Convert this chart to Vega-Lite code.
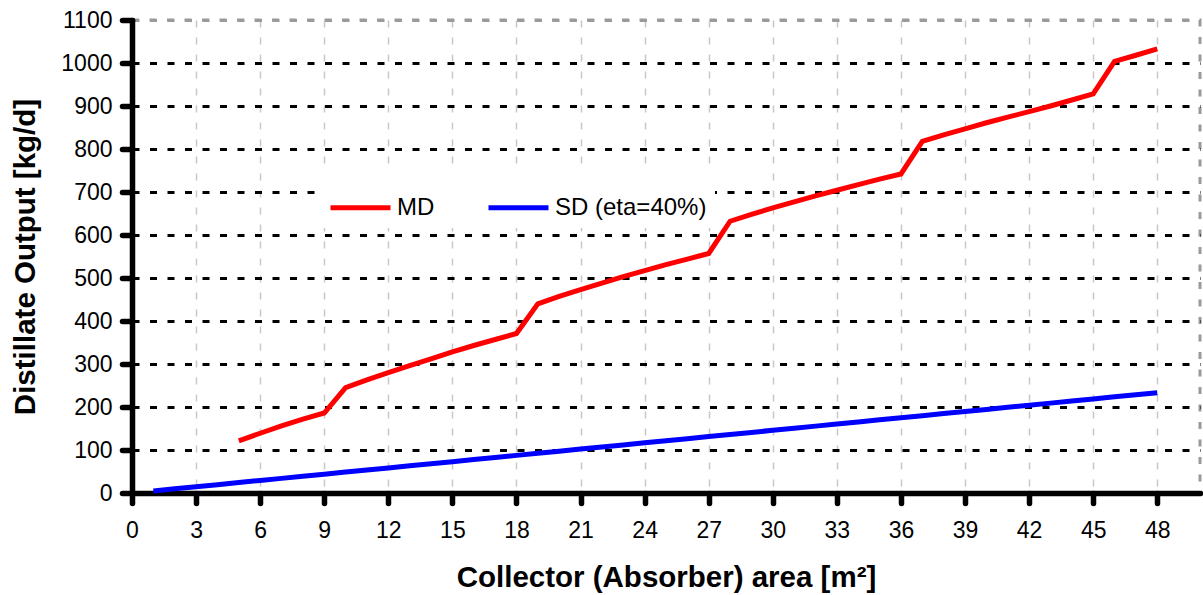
{
  "$schema": "https://vega.github.io/schema/vega-lite/v6.json",
  "width": 1068,
  "height": 473,
  "autosize": {"type": "none"},
  "padding": {"left": 132, "top": 20, "right": 3, "bottom": 102},
  "background": "white",
  "config": {
    "font": "Liberation Sans",
    "view": {"stroke": "#9a9a9a", "strokeWidth": 3, "strokeDash": [7, 10.5]}
  },
  "data": {
    "values": [
      {"area": 5, "output": 121, "series": "MD"},
      {"area": 6, "output": 139, "series": "MD"},
      {"area": 7, "output": 156, "series": "MD"},
      {"area": 8, "output": 172, "series": "MD"},
      {"area": 9, "output": 186, "series": "MD"},
      {"area": 10, "output": 245, "series": "MD"},
      {"area": 11, "output": 263, "series": "MD"},
      {"area": 12, "output": 280, "series": "MD"},
      {"area": 13, "output": 296, "series": "MD"},
      {"area": 14, "output": 312, "series": "MD"},
      {"area": 15, "output": 328, "series": "MD"},
      {"area": 16, "output": 343, "series": "MD"},
      {"area": 17, "output": 357, "series": "MD"},
      {"area": 18, "output": 371, "series": "MD"},
      {"area": 19, "output": 440, "series": "MD"},
      {"area": 20, "output": 457, "series": "MD"},
      {"area": 21, "output": 473, "series": "MD"},
      {"area": 22, "output": 488, "series": "MD"},
      {"area": 23, "output": 503, "series": "MD"},
      {"area": 24, "output": 517, "series": "MD"},
      {"area": 25, "output": 531, "series": "MD"},
      {"area": 26, "output": 544, "series": "MD"},
      {"area": 27, "output": 557, "series": "MD"},
      {"area": 28, "output": 632, "series": "MD"},
      {"area": 29, "output": 648, "series": "MD"},
      {"area": 30, "output": 663, "series": "MD"},
      {"area": 31, "output": 677, "series": "MD"},
      {"area": 32, "output": 691, "series": "MD"},
      {"area": 33, "output": 704, "series": "MD"},
      {"area": 34, "output": 717, "series": "MD"},
      {"area": 35, "output": 730, "series": "MD"},
      {"area": 36, "output": 742, "series": "MD"},
      {"area": 37, "output": 818, "series": "MD"},
      {"area": 38, "output": 833, "series": "MD"},
      {"area": 39, "output": 847, "series": "MD"},
      {"area": 40, "output": 861, "series": "MD"},
      {"area": 41, "output": 874, "series": "MD"},
      {"area": 42, "output": 887, "series": "MD"},
      {"area": 43, "output": 900, "series": "MD"},
      {"area": 44, "output": 914, "series": "MD"},
      {"area": 45, "output": 928, "series": "MD"},
      {"area": 46, "output": 1004, "series": "MD"},
      {"area": 47, "output": 1018, "series": "MD"},
      {"area": 48, "output": 1033, "series": "MD"},
      {"area": 1, "output": 4.9, "series": "SD (eta=40%)"},
      {"area": 2, "output": 9.7, "series": "SD (eta=40%)"},
      {"area": 3, "output": 14.6, "series": "SD (eta=40%)"},
      {"area": 4, "output": 19.4, "series": "SD (eta=40%)"},
      {"area": 5, "output": 24.3, "series": "SD (eta=40%)"},
      {"area": 6, "output": 29.2, "series": "SD (eta=40%)"},
      {"area": 7, "output": 34.0, "series": "SD (eta=40%)"},
      {"area": 8, "output": 38.9, "series": "SD (eta=40%)"},
      {"area": 9, "output": 43.7, "series": "SD (eta=40%)"},
      {"area": 10, "output": 48.6, "series": "SD (eta=40%)"},
      {"area": 11, "output": 53.5, "series": "SD (eta=40%)"},
      {"area": 12, "output": 58.3, "series": "SD (eta=40%)"},
      {"area": 13, "output": 63.2, "series": "SD (eta=40%)"},
      {"area": 14, "output": 68.0, "series": "SD (eta=40%)"},
      {"area": 15, "output": 72.9, "series": "SD (eta=40%)"},
      {"area": 16, "output": 77.8, "series": "SD (eta=40%)"},
      {"area": 17, "output": 82.6, "series": "SD (eta=40%)"},
      {"area": 18, "output": 87.5, "series": "SD (eta=40%)"},
      {"area": 19, "output": 92.3, "series": "SD (eta=40%)"},
      {"area": 20, "output": 97.2, "series": "SD (eta=40%)"},
      {"area": 21, "output": 102.1, "series": "SD (eta=40%)"},
      {"area": 22, "output": 106.9, "series": "SD (eta=40%)"},
      {"area": 23, "output": 111.8, "series": "SD (eta=40%)"},
      {"area": 24, "output": 116.6, "series": "SD (eta=40%)"},
      {"area": 25, "output": 121.5, "series": "SD (eta=40%)"},
      {"area": 26, "output": 126.4, "series": "SD (eta=40%)"},
      {"area": 27, "output": 131.2, "series": "SD (eta=40%)"},
      {"area": 28, "output": 136.1, "series": "SD (eta=40%)"},
      {"area": 29, "output": 140.9, "series": "SD (eta=40%)"},
      {"area": 30, "output": 145.8, "series": "SD (eta=40%)"},
      {"area": 31, "output": 150.7, "series": "SD (eta=40%)"},
      {"area": 32, "output": 155.5, "series": "SD (eta=40%)"},
      {"area": 33, "output": 160.4, "series": "SD (eta=40%)"},
      {"area": 34, "output": 165.2, "series": "SD (eta=40%)"},
      {"area": 35, "output": 170.1, "series": "SD (eta=40%)"},
      {"area": 36, "output": 175.0, "series": "SD (eta=40%)"},
      {"area": 37, "output": 179.8, "series": "SD (eta=40%)"},
      {"area": 38, "output": 184.7, "series": "SD (eta=40%)"},
      {"area": 39, "output": 189.5, "series": "SD (eta=40%)"},
      {"area": 40, "output": 194.4, "series": "SD (eta=40%)"},
      {"area": 41, "output": 199.3, "series": "SD (eta=40%)"},
      {"area": 42, "output": 204.1, "series": "SD (eta=40%)"},
      {"area": 43, "output": 209.0, "series": "SD (eta=40%)"},
      {"area": 44, "output": 213.8, "series": "SD (eta=40%)"},
      {"area": 45, "output": 218.7, "series": "SD (eta=40%)"},
      {"area": 46, "output": 223.6, "series": "SD (eta=40%)"},
      {"area": 47, "output": 228.4, "series": "SD (eta=40%)"},
      {"area": 48, "output": 233.3, "series": "SD (eta=40%)"}
    ]
  },
  "mark": {"type": "line", "strokeWidth": 5, "clip": false},
  "encoding": {
    "x": {
      "field": "area",
      "type": "quantitative",
      "scale": {"domain": [0, 50], "nice": false, "zero": false},
      "axis": {
        "title": "Collector (Absorber) area [m²]",
        "values": [0, 3, 6, 9, 12, 15, 18, 21, 24, 27, 30, 33, 36, 39, 42, 45, 48],
        "format": "d",
        "titleFont": "Liberation Sans",
        "titleFontSize": 29.5,
        "titleFontWeight": "bold",
        "titleColor": "black",
        "titlePadding": 21,
        "labelFont": "Liberation Sans",
        "labelFontSize": 23,
        "labelColor": "black",
        "labelPadding": 16,
        "labelFlush": false,
        "domainColor": "black",
        "domainWidth": 5.5,
        "domainCap": "round",
        "tickColor": "black",
        "tickWidth": 5.5,
        "tickSize": 10,
        "tickCap": "round",
        "grid": true,
        "gridColor": "#c8c8c8",
        "gridWidth": 1.5,
        "gridDash": [7, 10]
      }
    },
    "y": {
      "field": "output",
      "type": "quantitative",
      "scale": {"domain": [0, 1100], "nice": false},
      "axis": {
        "title": "Distillate Output [kg/d]",
        "values": [0, 100, 200, 300, 400, 500, 600, 700, 800, 900, 1000, 1100],
        "format": "d",
        "titleFont": "Liberation Sans",
        "titleFontSize": 29.5,
        "titleFontWeight": "bold",
        "titleColor": "black",
        "titlePadding": 20,
        "labelFont": "Liberation Sans",
        "labelFontSize": 23,
        "labelColor": "black",
        "labelPadding": 10,
        "labelFlush": false,
        "domainColor": "black",
        "domainWidth": 5.5,
        "domainCap": "round",
        "tickColor": "black",
        "tickWidth": 5.5,
        "tickSize": 10,
        "tickCap": "round",
        "grid": true,
        "gridColor": {"condition": {"test": "datum.value >= 1100", "value": "#9a9a9a"}, "value": "black"},
        "gridWidth": 3,
        "gridDash": [7, 10.5]
      }
    },
    "color": {
      "field": "series",
      "type": "nominal",
      "scale": {"domain": ["MD", "SD (eta=40%)"], "range": ["#ff0000", "#0000ff"]},
      "legend": {
        "title": null,
        "orient": "none",
        "direction": "horizontal",
        "legendX": 188,
        "legendY": 147,
        "padding": 8,
        "fillColor": "white",
        "strokeColor": null,
        "symbolType": "stroke",
        "symbolSize": 3600,
        "symbolStrokeWidth": 5,
        "labelFont": "Liberation Sans",
        "labelFontSize": 24,
        "labelColor": "black",
        "labelOffset": 4,
        "columnPadding": 43,
        "labelLimit": 300
      }
    }
  }
}
